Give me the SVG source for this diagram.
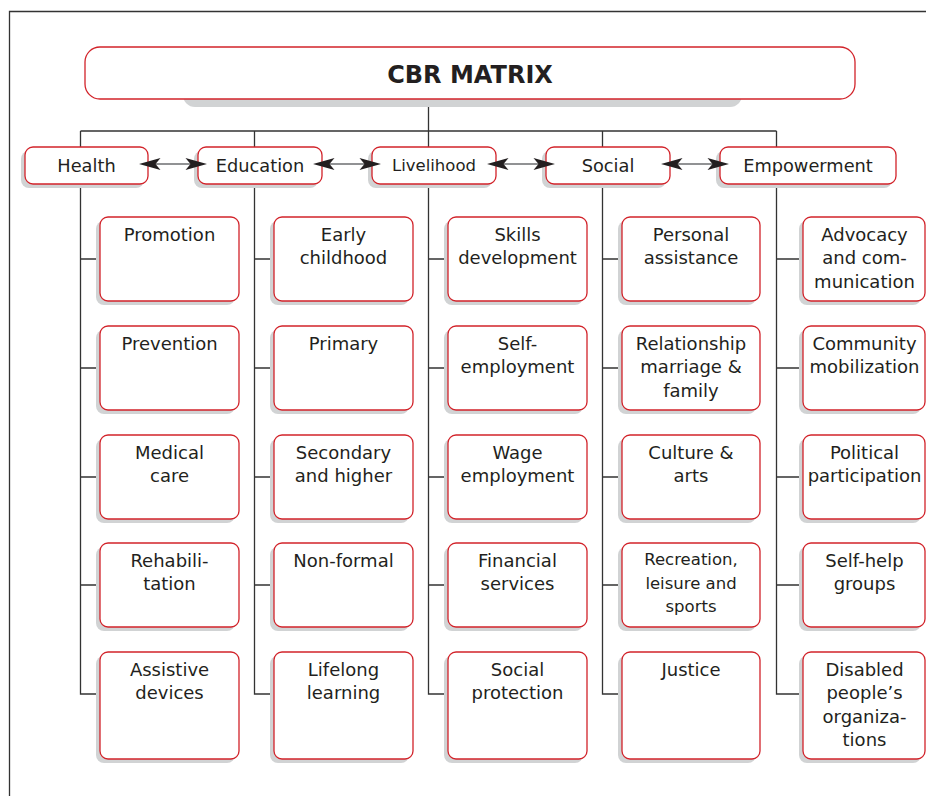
<svg xmlns="http://www.w3.org/2000/svg" width="926" height="796" viewBox="0 0 926 796">
  <style>
    .frame { fill: none; stroke: #333; stroke-width: 1.3; }
    .wire { fill: none; stroke: #333; stroke-width: 1.3; }
    .link { fill: none; stroke: #6d6e71; stroke-width: 1.6; }
    .head { fill: #231f20; }
    .sh { fill: #d1d3d4; }
    .box { fill: #fff; stroke: #d2232a; stroke-width: 1.3; }
    text { font-family: "DejaVu Sans", Verdana, sans-serif; fill: #231f20; text-anchor: middle; }
    .title { font-size: 24px; font-weight: bold; }
    .cat { font-size: 17.8px; }
    .cat-s { font-size: 16.5px; }
    .item { font-size: 18px; }
    .item-s { font-size: 16.5px; }
  </style>
  <defs>
    <!-- two-way link with stealth heads, drawn between Health and Education; shifted for the others -->
    <g id="two-way">
      <line class="link" x1="150" y1="164" x2="196" y2="164"/>
      <path class="head" d="M139,164 L160.5,158 L155.5,164 L160.5,170 Z"/>
      <path class="head" d="M207,164 L185.5,158 L190.5,164 L185.5,170 Z"/>
    </g>
  </defs>

  <rect width="926" height="796" fill="#fff"/>
  <path class="frame" d="M9.5,796 V11.5 H926"/>

  <!-- tree lines and double arrows -->
  <g id="connectors">
    <path class="wire" d="M428.5,99 V131 M80.5,131 H776.5 M80.5,131 V147 M254.5,131 V147 M428.5,131 V147 M602.5,131 V147 M776.5,131 V147"/>
    <!-- Health branch -->
    <path class="wire" d="M80.5,184 V694 H100 M80.5,259 H100 M80.5,368 H100 M80.5,477 H100 M80.5,585 H100"/>
    <!-- Education branch -->
    <path class="wire" d="M254.5,184 V694 H274 M254.5,259 H274 M254.5,368 H274 M254.5,477 H274 M254.5,585 H274"/>
    <!-- Livelihood branch -->
    <path class="wire" d="M428.5,184 V694 H448 M428.5,259 H448 M428.5,368 H448 M428.5,477 H448 M428.5,585 H448"/>
    <!-- Social branch -->
    <path class="wire" d="M602.5,184 V694 H622 M602.5,259 H622 M602.5,368 H622 M602.5,477 H622 M602.5,585 H622"/>
    <!-- Empowerment branch -->
    <path class="wire" d="M776.5,184 V694 H803 M776.5,259 H803 M776.5,368 H803 M776.5,477 H803 M776.5,585 H803"/>
  </g>

  <!-- title -->
  <g id="cbr-matrix">
    <rect class="sh" x="183" y="70" width="559" height="37" rx="12"/>
    <rect class="box" x="85" y="47" width="770" height="52" rx="15"/>
    <text class="title" x="470" y="82.5">CBR MATRIX</text>
  </g>

  <!-- components -->
  <g id="health">
    <rect class="sh" x="21" y="151" width="123" height="37" rx="8"/>
    <rect class="box" x="25" y="147" width="123" height="37" rx="8"/>
    <text class="cat" x="86.5" y="171.5">Health</text>
  </g>
  <g id="education">
    <rect class="sh" x="194" y="151" width="124" height="37" rx="8"/>
    <rect class="box" x="198" y="147" width="124" height="37" rx="8"/>
    <text class="cat" x="260" y="171.5">Education</text>
  </g>
  <g id="livelihood">
    <rect class="sh" x="368" y="151" width="124" height="37" rx="8"/>
    <rect class="box" x="372" y="147" width="124" height="37" rx="8"/>
    <text class="cat-s" x="434" y="170.5">Livelihood</text>
  </g>
  <g id="social">
    <rect class="sh" x="542" y="151" width="124" height="37" rx="8"/>
    <rect class="box" x="546" y="147" width="124" height="37" rx="8"/>
    <text class="cat" x="608" y="171.5">Social</text>
  </g>
  <g id="empowerment">
    <rect class="sh" x="716" y="151" width="176" height="37" rx="8"/>
    <rect class="box" x="720" y="147" width="176" height="37" rx="8"/>
    <text class="cat" x="808" y="171.5">Empowerment</text>
  </g>

  <!-- two-way links between the components, drawn over the box edges -->
  <g id="links">
    <use href="#two-way"/>
    <use href="#two-way" transform="translate(174,0)"/>
    <use href="#two-way" transform="translate(348,0)"/>
    <use href="#two-way" transform="translate(522,0)"/>
  </g>

  <!-- Health elements -->
  <g id="promotion">
    <rect class="sh" x="96" y="221" width="139" height="84" rx="8"/>
    <rect class="box" x="100" y="217" width="139" height="84" rx="8"/>
    <text class="item" x="169.5" y="240.5">Promotion</text>
  </g>
  <g id="prevention">
    <rect class="sh" x="96" y="330" width="139" height="84" rx="8"/>
    <rect class="box" x="100" y="326" width="139" height="84" rx="8"/>
    <text class="item" x="169.5" y="349.5">Prevention</text>
  </g>
  <g id="medical-care">
    <rect class="sh" x="96" y="439" width="139" height="84" rx="8"/>
    <rect class="box" x="100" y="435" width="139" height="84" rx="8"/>
    <text class="item" x="169.5" y="458.5">Medical<tspan x="169.5" dy="23.5">care</tspan></text>
  </g>
  <g id="rehabilitation">
    <rect class="sh" x="96" y="547" width="139" height="84" rx="8"/>
    <rect class="box" x="100" y="543" width="139" height="84" rx="8"/>
    <text class="item" x="169.5" y="566.5">Rehabili-<tspan x="169.5" dy="23.5">tation</tspan></text>
  </g>
  <g id="assistive-devices">
    <rect class="sh" x="96" y="656" width="139" height="107" rx="8"/>
    <rect class="box" x="100" y="652" width="139" height="107" rx="8"/>
    <text class="item" x="169.5" y="675.5">Assistive<tspan x="169.5" dy="23.5">devices</tspan></text>
  </g>

  <!-- Education elements -->
  <g id="early-childhood">
    <rect class="sh" x="270" y="221" width="139" height="84" rx="8"/>
    <rect class="box" x="274" y="217" width="139" height="84" rx="8"/>
    <text class="item" x="343.5" y="240.5">Early<tspan x="343.5" dy="23.5">childhood</tspan></text>
  </g>
  <g id="primary">
    <rect class="sh" x="270" y="330" width="139" height="84" rx="8"/>
    <rect class="box" x="274" y="326" width="139" height="84" rx="8"/>
    <text class="item" x="343.5" y="349.5">Primary</text>
  </g>
  <g id="secondary-higher">
    <rect class="sh" x="270" y="439" width="139" height="84" rx="8"/>
    <rect class="box" x="274" y="435" width="139" height="84" rx="8"/>
    <text class="item" x="343.5" y="458.5">Secondary<tspan x="343.5" dy="23.5">and higher</tspan></text>
  </g>
  <g id="non-formal">
    <rect class="sh" x="270" y="547" width="139" height="84" rx="8"/>
    <rect class="box" x="274" y="543" width="139" height="84" rx="8"/>
    <text class="item" x="343.5" y="566.5">Non-formal</text>
  </g>
  <g id="lifelong-learning">
    <rect class="sh" x="270" y="656" width="139" height="107" rx="8"/>
    <rect class="box" x="274" y="652" width="139" height="107" rx="8"/>
    <text class="item" x="343.5" y="675.5">Lifelong<tspan x="343.5" dy="23.5">learning</tspan></text>
  </g>

  <!-- Livelihood elements -->
  <g id="skills-development">
    <rect class="sh" x="444" y="221" width="139" height="84" rx="8"/>
    <rect class="box" x="448" y="217" width="139" height="84" rx="8"/>
    <text class="item" x="517.5" y="240.5">Skills<tspan x="517.5" dy="23.5">development</tspan></text>
  </g>
  <g id="self-employment">
    <rect class="sh" x="444" y="330" width="139" height="84" rx="8"/>
    <rect class="box" x="448" y="326" width="139" height="84" rx="8"/>
    <text class="item" x="517.5" y="349.5">Self-<tspan x="517.5" dy="23.5">employment</tspan></text>
  </g>
  <g id="wage-employment">
    <rect class="sh" x="444" y="439" width="139" height="84" rx="8"/>
    <rect class="box" x="448" y="435" width="139" height="84" rx="8"/>
    <text class="item" x="517.5" y="458.5">Wage<tspan x="517.5" dy="23.5">employment</tspan></text>
  </g>
  <g id="financial-services">
    <rect class="sh" x="444" y="547" width="139" height="84" rx="8"/>
    <rect class="box" x="448" y="543" width="139" height="84" rx="8"/>
    <text class="item" x="517.5" y="566.5">Financial<tspan x="517.5" dy="23.5">services</tspan></text>
  </g>
  <g id="social-protection">
    <rect class="sh" x="444" y="656" width="139" height="107" rx="8"/>
    <rect class="box" x="448" y="652" width="139" height="107" rx="8"/>
    <text class="item" x="517.5" y="675.5">Social<tspan x="517.5" dy="23.5">protection</tspan></text>
  </g>

  <!-- Social elements -->
  <g id="personal-assistance">
    <rect class="sh" x="618" y="221" width="138" height="84" rx="8"/>
    <rect class="box" x="622" y="217" width="138" height="84" rx="8"/>
    <text class="item" x="691" y="240.5">Personal<tspan x="691" dy="23.5">assistance</tspan></text>
  </g>
  <g id="relationship">
    <rect class="sh" x="618" y="330" width="138" height="84" rx="8"/>
    <rect class="box" x="622" y="326" width="138" height="84" rx="8"/>
    <text class="item" x="691" y="349.5">Relationship<tspan x="691" dy="23.5">marriage &amp;</tspan><tspan x="691" dy="23.5">family</tspan></text>
  </g>
  <g id="culture-arts">
    <rect class="sh" x="618" y="439" width="138" height="84" rx="8"/>
    <rect class="box" x="622" y="435" width="138" height="84" rx="8"/>
    <text class="item" x="691" y="458.5">Culture &amp;<tspan x="691" dy="23.5">arts</tspan></text>
  </g>
  <g id="recreation">
    <rect class="sh" x="618" y="547" width="138" height="84" rx="8"/>
    <rect class="box" x="622" y="543" width="138" height="84" rx="8"/>
    <text class="item-s" x="691" y="565">Recreation,<tspan x="691" dy="23.5">leisure and</tspan><tspan x="691" dy="23.5">sports</tspan></text>
  </g>
  <g id="justice">
    <rect class="sh" x="618" y="656" width="138" height="107" rx="8"/>
    <rect class="box" x="622" y="652" width="138" height="107" rx="8"/>
    <text class="item" x="691" y="675.5">Justice</text>
  </g>

  <!-- Empowerment elements -->
  <g id="advocacy">
    <rect class="sh" x="799" y="221" width="122" height="84" rx="8"/>
    <rect class="box" x="803" y="217" width="122" height="84" rx="8"/>
    <text class="item" x="864.5" y="240.5">Advocacy<tspan x="864.5" dy="23.5">and com-</tspan><tspan x="864.5" dy="23.5">munication</tspan></text>
  </g>
  <g id="community-mobilization">
    <rect class="sh" x="799" y="330" width="122" height="84" rx="8"/>
    <rect class="box" x="803" y="326" width="122" height="84" rx="8"/>
    <text class="item" x="864.5" y="349.5">Community<tspan x="864.5" dy="23.5">mobilization</tspan></text>
  </g>
  <g id="political-participation">
    <rect class="sh" x="799" y="439" width="122" height="84" rx="8"/>
    <rect class="box" x="803" y="435" width="122" height="84" rx="8"/>
    <text class="item" x="864.5" y="458.5">Political<tspan x="864.5" dy="23.5">participation</tspan></text>
  </g>
  <g id="self-help-groups">
    <rect class="sh" x="799" y="547" width="122" height="84" rx="8"/>
    <rect class="box" x="803" y="543" width="122" height="84" rx="8"/>
    <text class="item" x="864.5" y="566.5">Self-help<tspan x="864.5" dy="23.5">groups</tspan></text>
  </g>
  <g id="dpos">
    <rect class="sh" x="799" y="656" width="122" height="107" rx="8"/>
    <rect class="box" x="803" y="652" width="122" height="107" rx="8"/>
    <text class="item" x="864.5" y="675.5">Disabled<tspan x="864.5" dy="23.5">people’s</tspan><tspan x="864.5" dy="23.5">organiza-</tspan><tspan x="864.5" dy="23.5">tions</tspan></text>
  </g>
</svg>
